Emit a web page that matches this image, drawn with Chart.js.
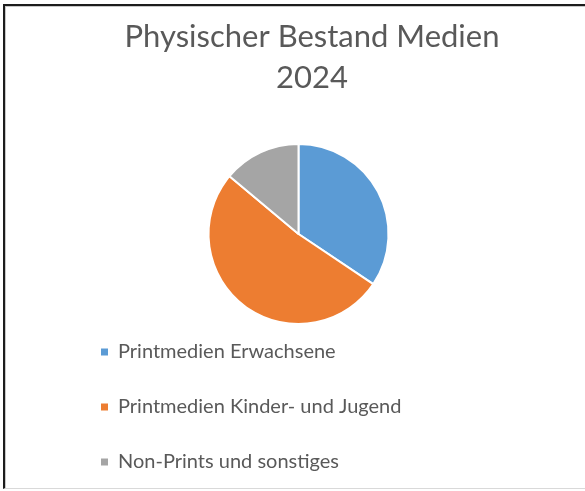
<!DOCTYPE html>
<html>
<head>
<meta charset="utf-8">
<script src="https://cdn.jsdelivr.net/npm/chart.js@4/dist/chart.umd.min.js"></script>
<style>
    html, body { margin: 0; padding: 0; background: #fff; }
    body { width: 585px; height: 491px; position: relative; overflow: hidden; }
    #frame {
        position: absolute; left: 3px; top: 4px; width: 590px; height: 482px;
        border-top: 2px solid #1c1c1c; border-left: 2px solid #1c1c1c;
        border-bottom: 1px solid #d9d9d9;
        box-shadow: inset 1px 1px 0 #c8c8c8;
    }
    #wrap { position: absolute; left: 5px; top: 7px; width: 580px; height: 480px; }
</style>
</head>
<body>
<div id="frame"></div>
<div id="wrap"><canvas id="pieChart"></canvas></div>
<script>
    let categories = ['Printmedien Erwachsene', 'Printmedien Kinder- und Jugend', 'Non-Prints und sonstiges'];
    let bestand = [34.4, 51.7, 13.9];
    let sliceColors = ['#5B9BD5', '#ED7D31', '#A5A5A5'];
    let titleLines = ['Physischer Bestand Medien', '2024'];

    // empty box on the right so the pie sits a bit left of the title, like in Excel
    let plotShift = {
        id: 'plotShift',
        beforeInit(chart) {
            Chart.layouts.addBox(chart, {
                position: 'right',
                weight: 0,
                fullSize: false,
                options: {},
                isHorizontal() { return false; },
                update(maxWidth, maxHeight) { this.width = 27; this.height = maxHeight; },
                draw() {}
            });
        }
    };

    Chart.defaults.font.family = 'Lato';
    Chart.defaults.color = '#595959';

    let ctx = document.getElementById('pieChart').getContext('2d');

    let myPieChart = new Chart(ctx, {
        type: 'pie',
        data: {
            labels: categories,
            datasets: [{
                data: bestand,
                backgroundColor: sliceColors,
                borderColor: '#ffffff',
                borderWidth: 2,
                radius: 90,
                clip: false
            }]
        },
        options: {
            responsive: true,
            maintainAspectRatio: false,
            animation: false,
            layout: { padding: { left: 61, right: 27, top: 0, bottom: 5 } },
            plugins: {
                title: {
                    display: true,
                    text: titleLines,
                    color: '#595959',
                    font: { size: 31, weight: 'normal', lineHeight: 1.323 },
                    padding: { top: 9, bottom: 63 }
                },
                legend: {
                    position: 'bottom',
                    align: 'start',
                    labels: {
                        color: '#595959',
                        font: { size: 20 },
                        boxWidth: 7,
                        boxHeight: 7,
                        padding: 35,
                        generateLabels(chart) {
                            let items = Chart.overrides.pie.plugins.legend.labels.generateLabels(chart);
                            return items.map(item => ({ ...item, lineWidth: 0 }));
                        }
                    }
                },
                tooltip: { enabled: false }
            }
        },
        plugins: [plotShift]
    });
</script>
</body>
</html>
